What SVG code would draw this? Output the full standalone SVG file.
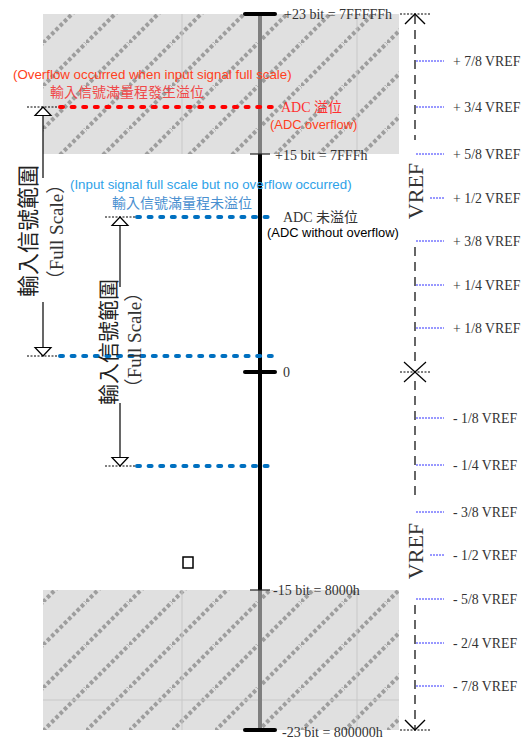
<svg xmlns="http://www.w3.org/2000/svg" width="528" height="740" viewBox="0 0 528 740">
<defs>
<pattern id="hatch" patternUnits="userSpaceOnUse" x="0" y="0" width="43" height="43">
<rect width="43" height="43" fill="#e0e0e0"/>
<path d="M-3,3 L3,-3 M0,43 L43,0 M40,46 L46,40" stroke="#9e9e9e" stroke-width="4" stroke-dasharray="3.6 2.4"/>
</pattern>
</defs>
<style>
.serif{font-family:"Liberation Serif","Noto Sans CJK TC",serif;fill:#333}
.sans{font-family:"Liberation Sans","Noto Sans CJK TC",sans-serif}
.cjk{font-family:"Noto Sans CJK TC","Liberation Serif",serif}
.vl{font-family:"Liberation Serif",serif;font-size:13.8px;fill:#333}
.tick{stroke:#3333ff;stroke-width:1;stroke-dasharray:2 1}
.dot{stroke-width:4;stroke-linecap:round;stroke-dasharray:3 8.6;fill:none}
.blk{stroke:#000;stroke-width:1;stroke-dasharray:2 1.5}
.head{fill:#fff;stroke:#000;stroke-width:1.2}
.vdash{stroke:#404040;stroke-width:1.6;stroke-dasharray:9 6;fill:none}
.grid{stroke:#c8c8c8;stroke-width:1}
</style>
<g id="overflow-zones">
<rect x="43" y="14" width="356" height="140" fill="url(#hatch)"/>
<rect x="43" y="590" width="356" height="140" fill="url(#hatch)"/>
<line class="grid" x1="182" y1="14" x2="182" y2="154"/>
<line class="grid" x1="357" y1="14" x2="357" y2="154"/>
<line class="grid" x1="182" y1="590" x2="182" y2="730"/>
<line class="grid" x1="357" y1="590" x2="357" y2="730"/>
<line class="grid" x1="43" y1="700" x2="399" y2="700"/>
</g>
<g id="axis">
<line x1="260" y1="14" x2="260" y2="154" stroke="#7f7f7f" stroke-width="4"/>
<line x1="260" y1="154" x2="260" y2="590" stroke="#000" stroke-width="4"/>
<line x1="260" y1="590" x2="260" y2="730" stroke="#7f7f7f" stroke-width="4"/>
<line x1="245" y1="14" x2="275" y2="14" stroke="#000" stroke-width="4" stroke-linecap="round"/>
<line x1="245" y1="372" x2="275" y2="372" stroke="#000" stroke-width="4" stroke-linecap="round"/>
<line x1="245" y1="730" x2="275" y2="730" stroke="#000" stroke-width="4" stroke-linecap="round"/>
<line x1="250" y1="154" x2="270" y2="154" stroke="#222" stroke-width="1.2"/>
<line x1="250" y1="590" x2="270" y2="590" stroke="#222" stroke-width="1.2"/>
<text class="serif" x="284" y="19" font-size="14">+23 bit = 7FFFFFh</text>
<text class="serif" x="275" y="160" font-size="14">+15 bit = 7FFFh</text>
<text class="serif" x="283" y="377" font-size="14">0</text>
<text class="serif" x="273" y="595" font-size="14">-15 bit = 8000h</text>
<text class="serif" x="282" y="737" font-size="14">-23 bit = 800000h</text>
</g>
<g id="overflow-level">
<line class="dot" x1="60" y1="107" x2="274" y2="107" stroke="#ff0000"/>
<text class="sans" x="13" y="79" font-size="13.3" fill="#ff4020">(Overflow occurred when input signal full scale)</text>
<text class="cjk" x="50" y="97" font-size="14" fill="#f04848">輸入信號滿量程發生溢位</text>
<text class="cjk" x="281" y="112" font-size="14" fill="#ff3030"><tspan font-family="Liberation Serif">ADC </tspan>溢位</text>
<text class="sans" x="270" y="129" font-size="12.9" fill="#ff4020">(ADC overflow)</text>
</g>
<g id="no-overflow-level">
<line class="dot" x1="137" y1="217" x2="272" y2="217" stroke="#0070c0"/>
<text class="sans" x="70" y="189" font-size="13.3" fill="#2ea2e8">(Input signal full scale but no overflow occurred)</text>
<text class="cjk" x="112" y="208" font-size="14" fill="#4a90d0">輸入信號滿量程未溢位</text>
<text class="cjk" x="283" y="222" font-size="14" fill="#333"><tspan font-family="Liberation Serif">ADC </tspan>未溢位</text>
<text class="sans" x="267" y="237" font-size="12.9" fill="#000">(ADC without overflow)</text>
</g>
<g id="low-levels">
<line class="dot" x1="60" y1="356" x2="276" y2="356" stroke="#0070c0"/>
<line class="dot" x1="137" y1="466" x2="270" y2="466" stroke="#0070c0"/>
</g>
<g id="full-scale-large">
<line class="blk" x1="27" y1="107" x2="57" y2="107"/>
<line class="blk" x1="27" y1="356" x2="58" y2="356"/>
<line x1="43" y1="115" x2="43" y2="178" stroke="#000" stroke-width="1.2"/>
<line x1="43" y1="302" x2="43" y2="348" stroke="#000" stroke-width="1.2"/>
<polygon class="head" points="43,107 35,115.5 51,115.5"/>
<polygon class="head" points="43,356 35,347.5 51,347.5"/>
<text class="cjk" transform="translate(36,231) rotate(-90)" text-anchor="middle" font-size="22" fill="#222">輸入信號範圍</text>
<text class="serif" transform="translate(63,232) rotate(-90)" text-anchor="middle" font-size="19" fill="#222">（Full Scale）</text>
</g>
<g id="full-scale-small">
<line class="blk" x1="105" y1="217" x2="135" y2="217"/>
<line class="blk" x1="105" y1="466" x2="135" y2="466"/>
<line x1="120" y1="225" x2="120" y2="287" stroke="#000" stroke-width="1.2"/>
<line x1="120" y1="403" x2="120" y2="458" stroke="#000" stroke-width="1.2"/>
<polygon class="head" points="120,217 112,225.5 128,225.5"/>
<polygon class="head" points="120,466 112,457.5 128,457.5"/>
<text class="cjk" transform="translate(116,342) rotate(-90)" text-anchor="middle" font-size="21" fill="#222">輸入信號範圍</text>
<text class="serif" transform="translate(141,340) rotate(-90)" text-anchor="middle" font-size="19" fill="#222">（Full Scale）</text>
</g>
<g id="vref-scale">
<line class="vdash" x1="415" y1="15" x2="415" y2="140"/>
<line class="vdash" x1="415" y1="247" x2="415" y2="364"/>
<line class="vdash" x1="415" y1="381" x2="415" y2="500"/>
<line class="vdash" x1="415" y1="605" x2="415" y2="729"/>
<polyline points="405,24 415,14 425,24" fill="none" stroke="#000" stroke-width="1.4"/>
<polyline points="405,720 415,730 425,720" fill="none" stroke="#000" stroke-width="1.4"/>
<line class="blk" x1="400" y1="14" x2="430" y2="14"/>
<line class="blk" x1="400" y1="730" x2="430" y2="730"/>
<line class="blk" x1="400" y1="372" x2="430" y2="372"/>
<line x1="404" y1="362" x2="426" y2="382" stroke="#000" stroke-width="1.2"/>
<line x1="404" y1="382" x2="426" y2="362" stroke="#000" stroke-width="1.2"/>
<text class="serif" transform="translate(423,191) rotate(-90)" text-anchor="middle" font-size="22" fill="#222">VREF</text>
<text class="serif" transform="translate(423,551) rotate(-90)" text-anchor="middle" font-size="22" fill="#222">VREF</text>
<line class="tick" x1="416" y1="61" x2="444" y2="61"/>
<line class="tick" x1="416" y1="107" x2="444" y2="107"/>
<line class="tick" x1="416" y1="154" x2="444" y2="154"/>
<line class="tick" x1="430" y1="198" x2="444" y2="198"/>
<line class="tick" x1="416" y1="241" x2="444" y2="241"/>
<line class="tick" x1="416" y1="285" x2="444" y2="285"/>
<line class="tick" x1="416" y1="328" x2="444" y2="328"/>
<line class="tick" x1="416" y1="418" x2="444" y2="418"/>
<line class="tick" x1="416" y1="465" x2="444" y2="465"/>
<line class="tick" x1="416" y1="512" x2="444" y2="512"/>
<line class="tick" x1="430" y1="555" x2="444" y2="555"/>
<line class="tick" x1="416" y1="599" x2="444" y2="599"/>
<line class="tick" x1="416" y1="643" x2="444" y2="643"/>
<line class="tick" x1="416" y1="686" x2="444" y2="686"/>
<text class="vl" x="453" y="66">+ 7/8 VREF</text>
<text class="vl" x="453" y="112">+ 3/4 VREF</text>
<text class="vl" x="453" y="159">+ 5/8 VREF</text>
<text class="vl" x="453" y="203">+ 1/2 VREF</text>
<text class="vl" x="453" y="246">+ 3/8 VREF</text>
<text class="vl" x="453" y="290">+ 1/4 VREF</text>
<text class="vl" x="453" y="333">+ 1/8 VREF</text>
<text class="vl" x="453" y="423">- 1/8 VREF</text>
<text class="vl" x="453" y="470">- 1/4 VREF</text>
<text class="vl" x="453" y="517">- 3/8 VREF</text>
<text class="vl" x="453" y="560">- 1/2 VREF</text>
<text class="vl" x="453" y="604">- 5/8 VREF</text>
<text class="vl" x="453" y="648">- 2/4 VREF</text>
<text class="vl" x="453" y="691">- 7/8 VREF</text>
</g>
<g id="marker-square">
<rect x="183" y="557" width="10" height="11" fill="#fff" stroke="#000" stroke-width="1.5"/>
</g>
</svg>
